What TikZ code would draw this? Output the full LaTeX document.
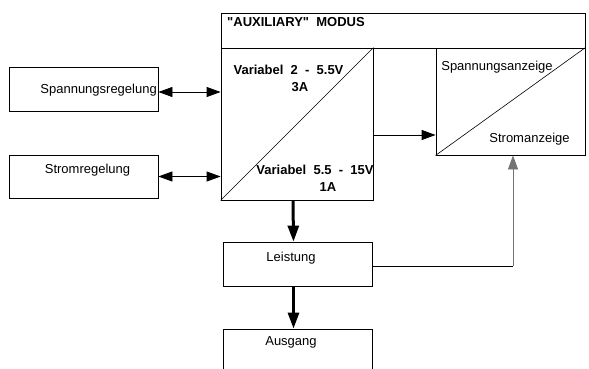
\documentclass[tikz,border=0pt]{standalone}
\usepackage{fontspec}
\setmainfont{Liberation Sans}[Ligatures=TeXOff]
\usepackage{tikz}
\usetikzlibrary{arrows.meta,positioning,calc}

\begin{document}
\begin{tikzpicture}[
  x=1pt, y=-1pt,
  font=\fontsize{13}{15}\selectfont,
  blk/.style={draw, line width=0.8pt, inner sep=0pt},
  txt/.style={inner sep=0pt},
  bold/.style={txt, font=\fontsize{13}{15}\selectfont\bfseries},
  arr/.style={-{Triangle[length=14pt,width=10pt]}, line width=0.8pt},
  dblarr/.style={{Triangle[length=14pt,width=10pt]}-{Triangle[length=14pt,width=10pt]}, line width=0.8pt},
  fat/.style={-{Triangle[length=16pt,width=11pt]}, line width=3pt}
]
  \useasboundingbox (0,0) rectangle (589,369);

  % header and the two panels below it
  \node[blk, minimum width=364, minimum height=35] (hdr) at (403,30.5) {};
  \node[bold, anchor=west] (hdrtxt) at (227,22) {"AUXILIARY"~ MODUS};
  \node[blk, minimum width=152, minimum height=152] (var) at (297,124) {};
  \node[blk, minimum width=149, minimum height=107] (disp) at (510.5,101.5) {};
  \draw[line width=0.6pt] (var.south west) -- (var.north east);
  \draw[line width=0.6pt] (disp.south west) -- (disp.north east);

  \node[bold] (lo1) at (288.5,70) {Variabel~ 2~ -~ 5.5V};
  \node[bold] (lo2) at (300,87) {3A};
  \node[bold] (hi1) at (315,170) {Variabel~ 5.5~ -~ 15V};
  \node[bold] (hi2) at (328,187) {1A};
  \node[txt] (utxt) at (497,67) {Spannungsanzeige};
  \node[txt] (itxt) at (529.5,139) {Stromanzeige};

  % control inputs on the left
  \node[blk, minimum width=149, minimum height=44] (spreg) at (83.5,89) {};
  \node[txt, anchor=east] (spregtxt) at (157,90) {Spannungsregelung};
  \node[blk, minimum width=149, minimum height=43] (streg) at (83.5,176.5) {};
  \node[txt] (stregtxt) at (87.5,170) {Stromregelung};

  % power stage and output
  \node[blk, minimum width=149, minimum height=44] (pow) at (297.5,264) {};
  \node[txt] (powtxt) at (291,258) {Leistung};
  \node[blk, minimum width=149, minimum height=46] (out) at (297.5,352) {};
  \node[txt] (outtxt) at (291,342) {Ausgang};

  \draw[dblarr] ([yshift=-3pt]spreg.east) -- ([yshift=-3pt]spreg.east -| var.west);
  \draw[dblarr] (streg.east) -- (streg.east -| var.west);
  \draw[arr] ([yshift=-11pt]var.east) -- ([yshift=-11pt]var.east -| disp.west);
  \draw[fat] ([xshift=-4pt]var.south) -- ([xshift=-4pt]pow.north);
  \draw[fat] ([xshift=-4pt]pow.south) -- ([xshift=-4pt]out.north);

  % feedback from the power stage to the display
  \coordinate (fb) at ([xshift=2.5pt]pow.east -| disp.south);
  \draw[line width=0.8pt] ([yshift=-2pt]pow.east) -- ([yshift=-2pt]fb);
  \draw[arr, draw=black!55, fill=black] ([yshift=-2pt]fb) -- ([xshift=2.5pt]disp.south);
\end{tikzpicture}
\end{document}
